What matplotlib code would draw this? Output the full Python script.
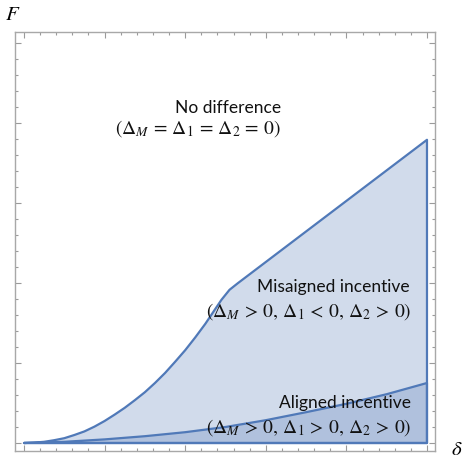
import matplotlib.pyplot as plt
from matplotlib.ticker import MultipleLocator
plt.switch_backend('Agg')

plt.rcParams['mathtext.fontset'] = 'stix'

# boundary between "no difference" and "misaligned" regions
upper_delta = [0, 0.025, 0.05, 0.075, 0.10, 0.125, 0.15, 0.175, 0.20, 0.225, 0.25,
               0.275, 0.30, 0.325, 0.35, 0.375, 0.40, 0.425, 0.45, 0.47, 0.49,
               0.51, 0.53, 1.0]
upper_F = [0, 0.001, 0.003, 0.007, 0.012, 0.020, 0.029, 0.041, 0.055, 0.071, 0.088,
           0.107, 0.127, 0.150, 0.175, 0.203, 0.232, 0.264, 0.298, 0.328, 0.358,
           0.383, 0.399, 0.758]

# boundary of the aligned-incentive region
lower_delta = [0, 0.1, 0.2, 0.3, 0.4, 0.5, 0.6, 0.7, 0.8, 0.9, 1.0]
lower_F = [0, 0.003, 0.009, 0.017, 0.027, 0.040, 0.057, 0.077, 0.098, 0.122, 0.150]

line_col = '#5079b8'
fill_col = (0.36, 0.50, 0.73, 0.28)


def region(ax, xs, ys):
    # close the polygon down the right edge and along F = 0
    px = list(xs) + [xs[-1], xs[0]]
    py = list(ys) + [0, 0]
    ax.fill(px, py, facecolor=fill_col, edgecolor=line_col, linewidth=1.6,
            joinstyle='round')


fig = plt.figure(figsize=(4.66, 4.59), dpi=100)
ax = fig.add_axes([15 / 466, 8 / 459, 420 / 466, 419 / 459])

region(ax, upper_delta, upper_F)
region(ax, lower_delta, lower_F)

ax.set_xlim(-0.0223, 1.0199)
ax.set_ylim(-0.02, 1.0275)

ax.xaxis.set_major_locator(MultipleLocator(0.2))
ax.xaxis.set_minor_locator(MultipleLocator(0.04))
ax.yaxis.set_major_locator(MultipleLocator(0.2))
ax.yaxis.set_minor_locator(MultipleLocator(0.04))
ax.tick_params(which='both', direction='in', top=True, right=True,
               labelbottom=False, labelleft=False, color='#9a9a9a', width=0.8)
ax.tick_params(which='major', length=4)
ax.tick_params(which='minor', length=2.2)
for sp in ax.spines.values():
    sp.set_color('#a8a8a8')
    sp.set_linewidth(1.0)

txt = dict(ha='right', va='center', transform=ax.transAxes, color='#111111')
sans = dict(family='Lato', fontsize=12.5)
math = dict(fontsize=14)


def to_ax(px, py):
    return ((px - 15) / 420, (451 - py) / 419)


ax.text(*to_ax(281, 108), 'No difference', **sans, **txt)
ax.text(*to_ax(281, 129), r'$(\Delta_M \,=\, \Delta_1 \,=\, \Delta_2 \,=\, 0)$', **math, **txt)
ax.text(*to_ax(410, 287), 'Misaigned incentive', **sans, **txt)
ax.text(*to_ax(411, 312), r'$(\Delta_M \,>\, 0,\, \Delta_1 \,<\, 0,\, \Delta_2 \,>\, 0)$', **math, **txt)
ax.text(*to_ax(411, 403), 'Aligned incentive', **sans, **txt)
ax.text(*to_ax(411, 428), r'$(\Delta_M \,>\, 0,\, \Delta_1 \,>\, 0,\, \Delta_2 \,>\, 0)$', **math, **txt)

fig.text(13 / 466, 1 - 14 / 459, r'$F$', fontsize=15, ha='center', va='center')
fig.text(457 / 466, 1 - 449 / 459, r'$\delta$', fontsize=15, ha='center', va='center')

plt.savefig('out.png', dpi=100)
